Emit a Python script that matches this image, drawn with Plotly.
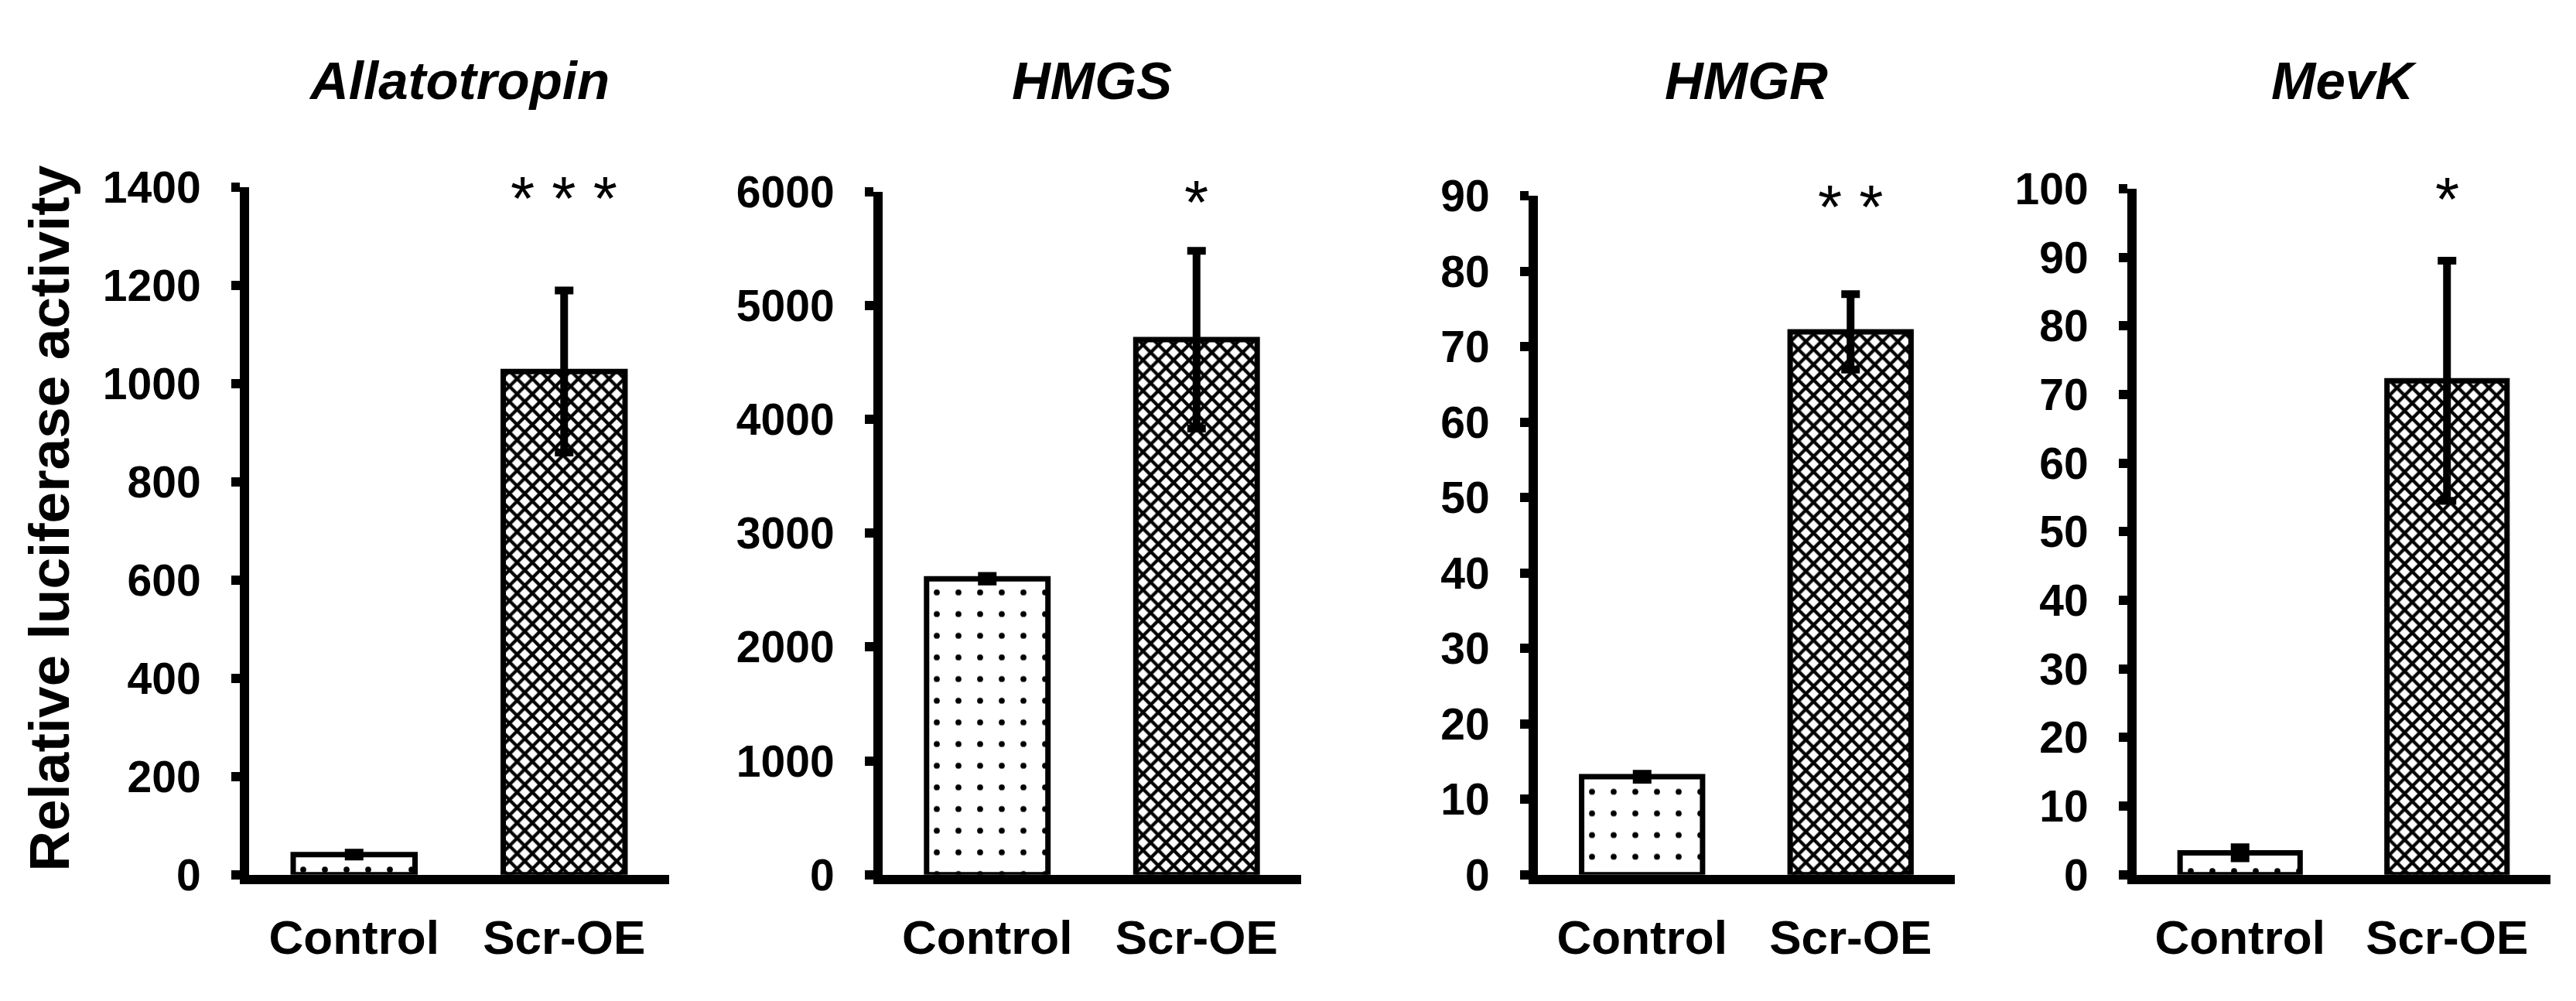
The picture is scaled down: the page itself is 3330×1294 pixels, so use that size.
import plotly.graph_objects as go

# values
genes = ["Allatotropin", "HMGS", "HMGR", "MevK"]
groups = ["Control", "Scr-OE"]
control_mean = [41, 2600, 13, 3.2]
control_err = [4, 25, 0.4, 0.8]
oe_mean = [1025, 4700, 72, 72]
oe_err = [165, 780, 5, 17.5]
y_max = [1400, 6000, 90, 100]
y_step = [200, 1000, 10, 10]
stars = ["* * *", "*", "* *", "*"]

W, H = 3330, 1294
FONT = "Liberation Sans, Arial, sans-serif"

# panel placement (pixels)
left_px = [322, 1141, 1988, 2762]
right_px = [865, 1682, 2527, 3297]
top_px = [221, 227, 233, 223]
bottom_px = 1156

fig = go.Figure()

for i, gene in enumerate(genes):
    n = "" if i == 0 else str(i + 1)
    fig.add_trace(go.Bar(
        x=groups,
        y=[control_mean[i], oe_mean[i]],
        width=0.58,
        xaxis="x" + n,
        yaxis="y" + n,
        marker=dict(
            color="white",
            line=dict(color="black", width=7),
            pattern=dict(
                shape=[".", "x"],
                size=[28, 14],
                solidity=[0.06, 0.52],
                fgcolor="black",
                bgcolor="white",
                fillmode="replace",
            ),
        ),
        error_y=dict(
            type="data",
            array=[control_err[i], oe_err[i]],
            color="black",
            thickness=10,
            width=12,
        ),
        showlegend=False,
    ))

    xd = [left_px[i] / W, right_px[i] / W]
    yd = [(H - bottom_px) / H, (H - top_px[i]) / H]
    fig.layout["xaxis" + n] = dict(
        domain=xd,
        anchor="y" + n,
        range=[-0.5, 1.5],
        showline=True,
        linecolor="black",
        linewidth=12,
        ticks="",
        showgrid=False,
        zeroline=False,
        tickfont=dict(family=FONT, size=62, color="black", weight="bold"),
        ticklabelstandoff=16,
    )
    fig.layout["yaxis" + n] = dict(
        domain=yd,
        anchor="x" + n,
        range=[0, y_max[i]],
        dtick=y_step[i],
        tick0=0,
        showline=True,
        linecolor="black",
        linewidth=12,
        ticks="outside",
        ticklen=11,
        tickwidth=12,
        tickcolor="black",
        showgrid=False,
        zeroline=False,
        tickfont=dict(family=FONT, size=57, color="black", weight="bold"),
        ticklabelstandoff=28,
    )

    # gene title
    fig.add_annotation(
        text="<b><i>" + gene + "</i></b>",
        xref="paper", yref="paper",
        x=(xd[0] + xd[1]) / 2, y=(H - 76) / H,
        xanchor="center", yanchor="middle",
        showarrow=False,
        font=dict(family=FONT, size=69, color="black"),
    )

    # significance stars
    fig.add_annotation(
        text=stars[i],
        xref="x" + n, yref="y" + n,
        x=groups[1], y=y_max[i],
        xanchor="center", yanchor="middle",
        yshift=-14,
        showarrow=False,
        font=dict(family=FONT, size=80, color="black"),
    )

fig.add_annotation(
    text="<b>Relative luciferase activity</b>",
    xref="paper", yref="paper",
    x=64 / W, y=(H - 672) / H,
    xanchor="center", yanchor="middle",
    textangle=-90,
    showarrow=False,
    font=dict(family=FONT, size=73, color="black"),
)

fig.update_layout(
    width=W,
    height=H,
    margin=dict(l=0, r=0, t=0, b=0),
    paper_bgcolor="white",
    plot_bgcolor="white",
)

# drop the default page margin so the figure fills the window exactly
fig.write_html(
    "out.html",
    config=dict(displayModeBar=False),
    post_script="document.body.style.margin='0';document.body.style.overflow='hidden';",
)
